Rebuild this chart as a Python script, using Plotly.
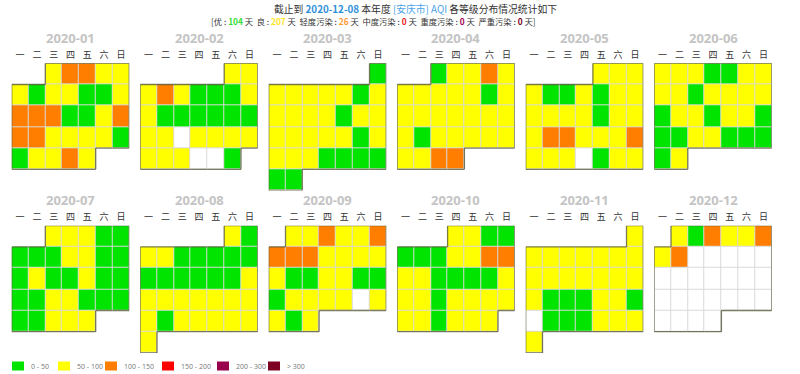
import calendar
import plotly.graph_objects as go

YEAR = 2020
month_titles = ["2020-01", "2020-02", "2020-03", "2020-04", "2020-05", "2020-06",
                "2020-07", "2020-08", "2020-09", "2020-10", "2020-11", "2020-12"]
weekday_labels = ["一", "二", "三", "四", "五", "六", "日"]
level_names = ["优", "良", "轻度污染", "中度污染", "重度污染", "严重污染"]
level_counts = [104, 207, 26, 0, 0, 0]
legend_labels = ["0 - 50", "50 - 100", "100 - 150", "150 - 200", "200 - 300", "> 300"]
level_colors = ["#00e400", "#ffff00", "#ff7e00", "#ff0000", "#99004c", "#7e0023"]

# daily AQI level code: 1 优, 2 良, 3 轻度污染, 0 = no data
jan = [2, 3, 3, 2, 2, 2, 1, 2, 2, 1, 1, 2, 3, 3, 3, 1, 1, 2, 3, 3, 3, 2, 2, 2, 2, 1, 1, 2, 2, 3, 2]
feb = [2, 2, 2, 3, 2, 1, 1, 1, 2, 2, 1, 1, 1, 1, 1, 1, 2, 2, 0, 2, 2, 2, 2, 2, 2, 2, 0, 0, 1]
mar = [1, 2, 2, 2, 2, 2, 1, 2, 2, 2, 2, 2, 1, 2, 2, 2, 2, 2, 2, 2, 1, 2, 2, 2, 2, 1, 1, 1, 1, 1, 1]
apr = [1, 2, 2, 3, 2, 2, 2, 2, 2, 2, 1, 2, 2, 2, 2, 2, 2, 2, 2, 2, 1, 2, 2, 2, 2, 2, 2, 2, 3, 3]
may = [2, 2, 2, 2, 1, 1, 2, 1, 2, 2, 2, 2, 2, 2, 1, 2, 2, 2, 3, 3, 2, 2, 2, 3, 2, 2, 2, 0, 1, 2, 2]
jun = [2, 2, 2, 1, 1, 2, 2, 2, 2, 1, 2, 2, 2, 2, 1, 2, 2, 1, 2, 2, 1, 1, 1, 2, 2, 1, 1, 1, 1, 2]
jul = [2, 2, 2, 1, 1, 1, 1, 1, 2, 2, 1, 1, 1, 2, 1, 1, 2, 1, 1, 1, 1, 2, 2, 1, 1, 1, 1, 1, 2, 2, 2]
aug = [2, 1, 2, 2, 1, 1, 1, 1, 1, 1, 1, 1, 1, 1, 1, 2, 2, 2, 2, 2, 2, 2, 2, 2, 1, 2, 2, 2, 2, 2, 2]
sep = [2, 2, 3, 2, 2, 3, 3, 3, 3, 2, 2, 2, 2, 2, 1, 1, 2, 2, 1, 1, 1, 2, 2, 2, 2, 0, 2, 2, 1, 2]
oct_ = [2, 2, 1, 1, 1, 1, 1, 2, 2, 3, 3, 2, 2, 1, 1, 1, 1, 2, 2, 2, 1, 2, 2, 2, 2, 2, 2, 1, 2, 2, 2]
nov = [2, 2, 2, 2, 2, 2, 2, 2, 2, 2, 2, 2, 2, 2, 2, 2, 1, 1, 1, 2, 2, 1, 0, 1, 1, 1, 2, 2, 2, 2]
dec = [2, 1, 3, 2, 2, 3, 2, 3]
monthly_levels = [jan, feb, mar, apr, may, jun, jul, aug, sep, oct_, nov, dec]

W, H = 800, 374
fig = go.Figure()

# discrete colour scale: code 0 white, 1..6 level colours
cols = ["#ffffff"] + level_colors
n = len(cols)
cscale = []
for k, c in enumerate(cols):
    cscale.append([k / n, c])
    cscale.append([(k + 1) / n, c])

COL_W, ROW_H = 16.8, 21.2
GRID_W = 7 * COL_W
GRID_H = 6 * ROW_H
row_tops = [63.3, 225.7]
left0, step = 11.7, 128.5

layout_axes = {}
annotations = []

for i, (title, vals) in enumerate(zip(month_titles, monthly_levels)):
    m = i + 1
    start, ndays = calendar.monthrange(YEAR, m)
    zc = [[None] * 7 for _ in range(6)]
    zb = [[None] * 7 for _ in range(6)]
    cells = set()
    for d in range(1, ndays + 1):
        idx = start + d - 1
        r, c = idx // 7, idx % 7
        zb[r][c] = 1
        zc[r][c] = vals[d - 1] if d <= len(vals) else 0
        cells.add((r, c))
    ax = "" if i == 0 else str(i + 1)
    xa, ya = "x" + ax, "y" + ax
    fig.add_trace(go.Heatmap(z=zb, x=list(range(7)), y=list(range(6)), xaxis=xa, yaxis=ya,
                             colorscale=[[0, "#d9d9d9"], [1, "#d9d9d9"]], zmin=0, zmax=1,
                             showscale=False, hoverinfo="skip"))
    fig.add_trace(go.Heatmap(z=zc, x=list(range(7)), y=list(range(6)), xaxis=xa, yaxis=ya,
                             colorscale=cscale, zmin=-0.5, zmax=n - 0.5, xgap=1, ygap=1,
                             showscale=False, hoverinfo="skip"))
    # outline of the month block
    ox, oy = [], []
    for (r, c) in sorted(cells):
        if (r - 1, c) not in cells:
            ox += [c - 0.5, c + 0.5, None]; oy += [r - 0.5, r - 0.5, None]
        if (r + 1, c) not in cells:
            ox += [c - 0.5, c + 0.5, None]; oy += [r + 0.5, r + 0.5, None]
        if (r, c - 1) not in cells:
            ox += [c - 0.5, c - 0.5, None]; oy += [r - 0.5, r + 0.5, None]
        if (r, c + 1) not in cells:
            ox += [c + 0.5, c + 0.5, None]; oy += [r - 0.5, r + 0.5, None]
    fig.add_trace(go.Scatter(x=ox, y=oy, xaxis=xa, yaxis=ya, mode="lines",
                             line=dict(color="rgba(90,90,60,0.8)", width=1.3),
                             hoverinfo="skip", showlegend=False))

    row, colpos = divmod(i, 6)
    lx = left0 + step * colpos
    top = row_tops[row]
    xd = [lx / W, (lx + GRID_W) / W]
    yd = [(H - top - GRID_H) / H, (H - top) / H]
    layout_axes["xaxis" + ax] = dict(domain=xd, anchor=ya, range=[-0.5, 6.5], side="top",
                                     tickmode="array", tickvals=list(range(7)), ticktext=weekday_labels,
                                     ticks="", showgrid=False, zeroline=False, showline=False,
                                     fixedrange=True, ticklabelstandoff=3,
                                     tickfont=dict(size=9, color="#333333", family="Noto Sans CJK SC"))
    layout_axes["yaxis" + ax] = dict(domain=yd, anchor=xa, range=[5.5, -0.5], showticklabels=False,
                                     ticks="", showgrid=False, zeroline=False, showline=False,
                                     fixedrange=True)
    annotations.append(dict(text="<b>" + title + "</b>", xref="paper", yref="paper",
                            x=(lx + GRID_W / 2) / W, y=(H - (top - 25.5)) / H,
                            xanchor="center", yanchor="middle", showarrow=False,
                            font=dict(size=13, color="#c4c4c4", family="Open Sans, Arial")))

# header
dark = "#333333"
line1 = ("截止到 <b><span style='color:#2f8fd8'>2020-12-08</span></b> 本年度 "
         "<span style='color:#4aa3e8'>[安庆市] AQI</span> 各等级分布情况统计如下")
num_colors = ["#33dd33", "#ffe31a", "#ff9933", "#ee2222", "#a0004f", "#7e0023"]
parts = []
for nm, cnt, nc in zip(level_names, level_counts, num_colors):
    parts.append(f"{nm}\u00a0:\u00a0<b><span style='color:{nc}'>{cnt}</span></b>\u00a0天")
line2 = "[" + "\u00a0\u00a0".join(parts) + "]"
annotations.append(dict(text=line1, xref="paper", yref="paper", x=272 / W, y=(H - 9) / H,
                        xanchor="left", yanchor="middle", showarrow=False,
                        font=dict(size=9.8, color=dark, family="Noto Sans CJK SC")))
annotations.append(dict(text=line2, xref="paper", yref="paper", x=209 / W, y=(H - 21) / H,
                        xanchor="left", yanchor="middle", showarrow=False,
                        font=dict(size=8.3, color=dark, family="Noto Sans CJK SC")))

# legend
shapes = []
box_x = [12, 58, 105, 162, 217, 268]
for bx, lab, c in zip(box_x, legend_labels, level_colors):
    shapes.append(dict(type="rect", xref="paper", yref="paper", x0=bx / W, x1=(bx + 12) / W,
                       y0=(H - 370.5) / H, y1=(H - 361.5) / H, fillcolor=c, line=dict(width=0)))
    annotations.append(dict(text=lab, xref="paper", yref="paper", x=(bx + 17) / W, y=(H - 366) / H,
                            xanchor="left", yanchor="middle", showarrow=False,
                            font=dict(size=7, color="#777777", family="Open Sans")))

fig.update_layout(width=W, height=H, margin=dict(l=0, r=0, t=0, b=0),
                  paper_bgcolor="white", plot_bgcolor="white", showlegend=False,
                  annotations=annotations, shapes=shapes, **layout_axes)
fig.write_html("out.html", config={"displayModeBar": False},
               post_script="document.body.style.margin='0px';")
